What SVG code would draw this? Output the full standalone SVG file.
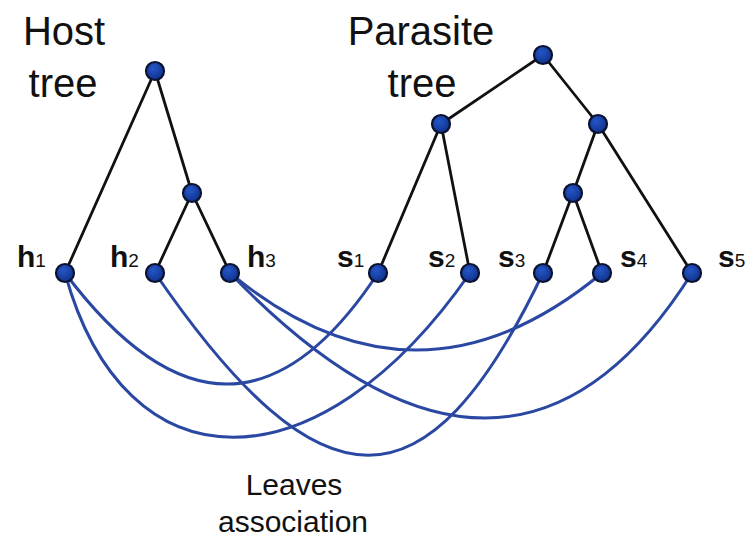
<svg xmlns="http://www.w3.org/2000/svg" width="750" height="540" viewBox="0 0 750 540">
<defs>
<radialGradient id="ng" cx="0.4" cy="0.35" r="0.7">
<stop offset="0" stop-color="#2456c8"/>
<stop offset="1" stop-color="#0f3088"/>
</radialGradient>
<style>
.edge{stroke:#111;stroke-width:2.8;fill:none;stroke-linecap:round}
.assoc{stroke:#2a48a2;stroke-width:3;fill:none}
.node{fill:url(#ng);stroke:#0a1230;stroke-width:2.2}
.title{font-family:"Liberation Sans",Arial,sans-serif;font-size:40px;fill:#111;text-anchor:middle}
.cap{font-family:"Liberation Sans",Arial,sans-serif;font-size:30px;fill:#111;text-anchor:middle}
.leaf{font-family:"Liberation Sans",Arial,sans-serif;font-size:30px;font-weight:bold;fill:#111}
.sub{font-size:19px;font-weight:normal}
</style>
</defs>
<rect width="750" height="540" fill="#fff"/>
<g id="titles">
<text class="title" x="64" y="45">Host</text>
<text class="title" x="63" y="97">tree</text>
<text class="title" x="421" y="45">Parasite</text>
<text class="title" x="422" y="97">tree</text>
</g>
<g id="connectors">
<g id="tree-edges">
<line class="edge" x1="155" y1="71" x2="65" y2="273"/>
<line class="edge" x1="155" y1="71" x2="192" y2="193"/>
<line class="edge" x1="192" y1="193" x2="155" y2="273"/>
<line class="edge" x1="192" y1="193" x2="230" y2="273"/>
<line class="edge" x1="543" y1="55" x2="441" y2="124"/>
<line class="edge" x1="543" y1="55" x2="598" y2="124"/>
<line class="edge" x1="441" y1="124" x2="378" y2="273"/>
<line class="edge" x1="441" y1="124" x2="470" y2="273"/>
<line class="edge" x1="598" y1="124" x2="573" y2="193"/>
<line class="edge" x1="598" y1="124" x2="692" y2="273"/>
<line class="edge" x1="573" y1="193" x2="543" y2="273"/>
<line class="edge" x1="573" y1="193" x2="602" y2="273"/>
</g>
<g id="associations">
<path class="assoc" d="M65,273 Q232,495 378,273"/>
<path class="assoc" d="M65,273 C125,492 318,492 470,273"/>
<path class="assoc" d="M155,273 C322,516 427,516 543,273"/>
<path class="assoc" d="M230,273 Q416,427 602,273"/>
<path class="assoc" d="M230,273 Q509,563 692,273"/>
</g>
</g>
<g id="host-root"><circle class="node" cx="155" cy="71" r="9"/></g>
<g id="host-internal"><circle class="node" cx="192" cy="193" r="9"/></g>
<g id="h1"><circle class="node" cx="65" cy="273" r="9"/><text class="leaf" x="17" y="267">h<tspan class="sub">1</tspan></text></g>
<g id="h2"><circle class="node" cx="155" cy="273" r="9"/><text class="leaf" x="110" y="267">h<tspan class="sub">2</tspan></text></g>
<g id="h3"><circle class="node" cx="230" cy="273" r="9"/><text class="leaf" x="247" y="267">h<tspan class="sub">3</tspan></text></g>
<g id="par-root"><circle class="node" cx="543" cy="55" r="9"/></g>
<g id="par-left"><circle class="node" cx="441" cy="124" r="9"/></g>
<g id="par-right"><circle class="node" cx="598" cy="124" r="9"/></g>
<g id="par-rr"><circle class="node" cx="573" cy="193" r="9"/></g>
<g id="s1"><circle class="node" cx="378" cy="273" r="9"/><text class="leaf" x="337" y="267">s<tspan class="sub">1</tspan></text></g>
<g id="s2"><circle class="node" cx="470" cy="273" r="9"/><text class="leaf" x="428" y="267">s<tspan class="sub">2</tspan></text></g>
<g id="s3"><circle class="node" cx="543" cy="273" r="9"/><text class="leaf" x="498" y="267">s<tspan class="sub">3</tspan></text></g>
<g id="s4"><circle class="node" cx="602" cy="273" r="9"/><text class="leaf" x="620" y="267">s<tspan class="sub">4</tspan></text></g>
<g id="s5"><circle class="node" cx="692" cy="273" r="9"/><text class="leaf" x="718" y="267">s<tspan class="sub">5</tspan></text></g>
<g id="caption">
<text class="cap" x="294" y="495">Leaves</text>
<text class="cap" x="293" y="532">association</text>
</g>
</svg>
